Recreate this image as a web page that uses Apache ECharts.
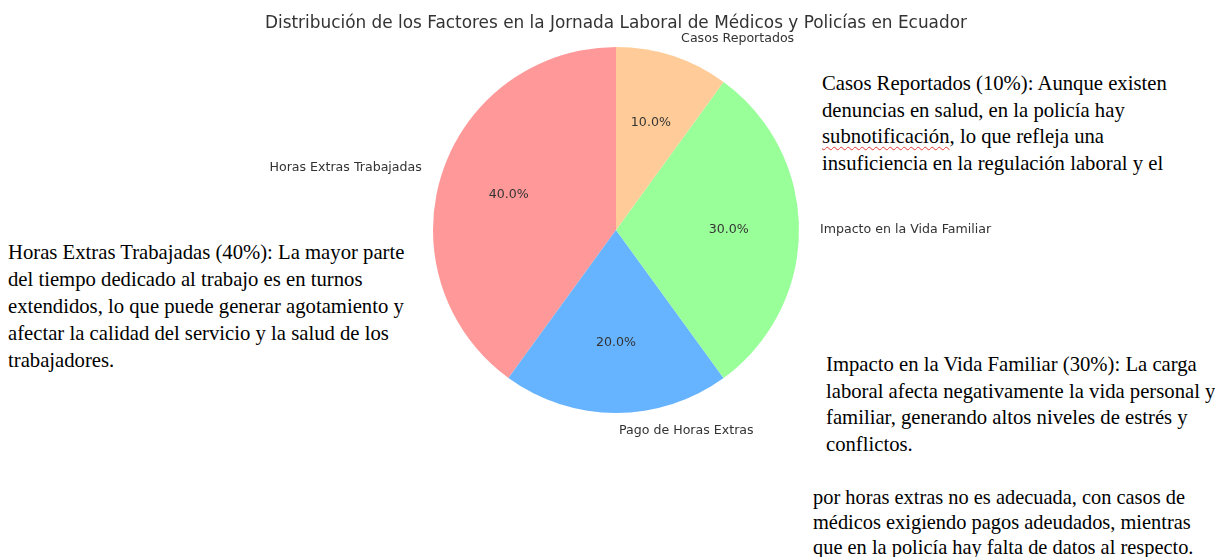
<!DOCTYPE html>
<html>
<head>
<meta charset="utf-8">
<script src="https://cdn.jsdelivr.net/npm/echarts@6/dist/echarts.min.js"></script>
<style>
  html, body { margin: 0; padding: 0; background: #fff; }
  #wrap { position: relative; width: 1215px; height: 557px; overflow: hidden; }
  #chart { position: absolute; left: 0; top: 0; width: 1215px; height: 557px; }
  .note { position: absolute; font-family: "Liberation Serif", "Times New Roman", serif; font-size: 20.7px; color: #000; line-height: 26.5px; white-space: nowrap; }
  .wavy { text-decoration: underline wavy #e53935; text-decoration-thickness: 1px; text-underline-offset: 3px; }
</style>
</head>
<body>
<div id="wrap">
  <div class="note" id="n1" style="left:822px; top:70px; height:120px; overflow:hidden;">Casos Reportados (10%): Aunque existen<br>denuncias en salud, en la policía hay<br><span class="wavy">subnotificación</span>, lo que refleja una<br>insuficiencia en la regulación laboral y el</div>
  <div class="note" id="n2" style="left:8px; top:239px; line-height:27px;">Horas Extras Trabajadas (40%): La mayor parte<br>del tiempo dedicado al trabajo es en turnos<br>extendidos, lo que puede generar agotamiento y<br>afectar la calidad del servicio y la salud de los<br>trabajadores.</div>
  <div class="note" id="n3" style="left:826px; top:351px;">Impacto en la Vida Familiar (30%): La carga<br>laboral afecta negativamente la vida personal y<br>familiar, generando altos niveles de estrés y<br>conflictos.</div>
  <div class="note" id="n4" style="left:813px; top:485px; font-size:20.4px; line-height:25px;">por horas extras no es adecuada, con casos de<br>médicos exigiendo pagos adeudados, mientras<br>que en la policía hay falta de datos al respecto.</div>
  <div id="chart"></div>
</div>
<script>
const titleText = 'Distribución de los Factores en la Jornada Laboral de Médicos y Policías en Ecuador';
const categories = ['Horas Extras Trabajadas', 'Pago de Horas Extras', 'Impacto en la Vida Familiar', 'Casos Reportados'];
const values = [40, 20, 30, 10];
const colors = ['#ff9999', '#66b3ff', '#99ff99', '#ffcc99'];

const R = 183;
const center = [616, 230];
const data = categories.map((c, i) => ({ name: c, value: values[i], itemStyle: { color: colors[i] } }));
const ghost = categories.map((c, i) => ({ name: c, value: values[i] }));

const chart = echarts.init(document.getElementById('chart'), null, { renderer: 'canvas' });
chart.setOption({
  animation: false,
  backgroundColor: 'transparent',
  title: {
    text: titleText,
    left: 260,
    top: 10,
    textStyle: { fontFamily: 'DejaVu Sans', fontSize: 16.9, fontWeight: 'normal', color: '#333' }
  },
  series: [
    {
      type: 'pie',
      center: center,
      radius: [0, R],
      startAngle: 90,
      clockwise: false,
      avoidLabelOverlap: false,
      silent: true,
      data: data,
      itemStyle: { borderWidth: 0 },
      label: {
        show: true,
        position: 'outside',
        formatter: '{b}',
        fontFamily: 'DejaVu Sans',
        fontSize: 12.6,
        color: '#333',
        distanceToLabelLine: 3
      },
      labelLine: { show: false, length: 18, length2: 0 },
      emphasis: { disabled: true }
    },
    {
      type: 'pie',
      center: center,
      radius: [R * 0.2, R],
      startAngle: 90,
      clockwise: false,
      avoidLabelOverlap: false,
      silent: true,
      data: ghost,
      itemStyle: { color: 'rgba(0,0,0,0)', borderWidth: 0 },
      label: {
        show: true,
        position: 'inside',
        formatter: p => p.percent.toFixed(1) + '%',
        fontFamily: 'DejaVu Sans',
        fontSize: 12.6,
        color: '#333'
      },
      labelLine: { show: false },
      emphasis: { disabled: true }
    }
  ]
});
</script>
</body>
</html>
